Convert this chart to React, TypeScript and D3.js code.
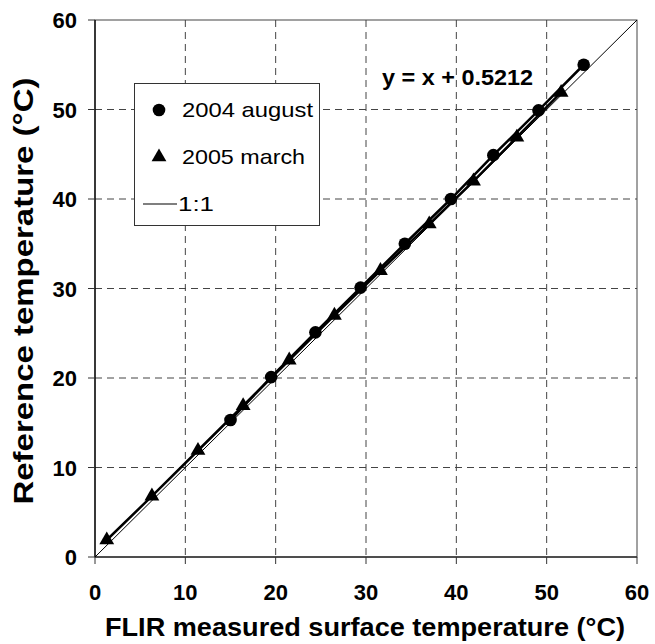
import React from "react";
import * as d3 from "d3";

const augX = [15.0, 19.5, 24.4, 29.4, 34.3, 39.4, 44.1, 49.1, 54.1];
const augY = [15.3, 20.1, 25.1, 30.1, 35.0, 40.0, 44.9, 49.9, 55.0];
const marX = [1.3, 6.3, 11.4, 16.4, 21.5, 26.5, 31.6, 37.0, 41.9, 46.7, 51.6];
const marY = [1.9, 6.8, 11.9, 16.9, 22.0, 27.0, 32.0, 37.2, 42.0, 46.9, 51.9];
const oneToOne = [0, 60];
const ticks = [0, 10, 20, 30, 40, 50, 60];
const legendLabels = ["2004 august", "2005 march", "1:1"];
const equation = "y = x + 0.5212";
const xTitle = "FLIR measured surface temperature (°C)";
const yTitle = "Reference temperature (°C)";

const W = 655, H = 644;
const L = 95, R = 637, T = 20, B = 557;
const FONT = "'Liberation Sans', Arial, sans-serif";

export default function App() {
  const x = d3.scaleLinear().domain([0, 60]).range([L, R]);
  const y = d3.scaleLinear().domain([0, 60]).range([B, T]);
  const line = d3.line<[number, number]>().x(d => x(d[0])).y(d => y(d[1]));
  const aug: [number, number][] = augX.map((v, i) => [v, augY[i]]);
  const mar: [number, number][] = marX.map((v, i) => [v, marY[i]]);
  const tri = d3.symbol().type(d3.symbolTriangle).size(95)() as string;

  return (
    <svg width={W} height={H} style={{ position: "absolute", left: 0, top: 0 }} fontFamily={FONT}>
      <rect x={0} y={0} width={W} height={H} fill="#fff" />
      {/* grid */}
      {ticks.slice(1, -1).map(t => (
        <g key={"g" + t}>
          <line x1={x(t)} x2={x(t)} y1={T} y2={B} stroke="#444" strokeWidth={1} strokeDasharray="7,5" />
          <line x1={L} x2={R} y1={y(t)} y2={y(t)} stroke="#444" strokeWidth={1} strokeDasharray="7,5" />
        </g>
      ))}
      {/* frame */}
      <rect x={L} y={T} width={R - L} height={B - T} fill="none" stroke="#444" strokeWidth={1} />
      <line x1={L} x2={L} y1={T} y2={B} stroke="#000" strokeWidth={1.3} />
      <line x1={L} x2={R} y1={B} y2={B} stroke="#333" strokeWidth={1.3} />
      {/* ticks */}
      {ticks.map(t => (
        <g key={"t" + t}>
          <line x1={x(t)} x2={x(t)} y1={B} y2={B + 7} stroke="#333" />
          <line x1={L - 7} x2={L} y1={y(t)} y2={y(t)} stroke="#333" />
          <text x={x(t)} y={600} textAnchor="middle" fontSize={22} fontWeight="bold">{t}</text>
          <text x={77} y={y(t) + 8} textAnchor="end" fontSize={22} fontWeight="bold">{t}</text>
        </g>
      ))}
      {/* 1:1 line */}
      <path d={line(oneToOne.map(v => [v, v] as [number, number])) as string} stroke="#000" strokeWidth={1} fill="none" />
      {/* series lines */}
      <path d={line(aug) as string} stroke="#000" strokeWidth={2.5} fill="none" />
      <path d={line(mar) as string} stroke="#000" strokeWidth={2.5} fill="none" />
      {/* markers */}
      {aug.map((d, i) => (
        <circle key={"c" + i} cx={x(d[0])} cy={y(d[1])} r={6.3} fill="#000" />
      ))}
      {mar.map((d, i) => (
        <path key={"m" + i} d={tri} transform={`translate(${x(d[0])},${y(d[1])})`} fill="#000" />
      ))}
      {/* equation */}
      <text x={382} y={85} fontSize={22} fontWeight="bold" textLength={151} lengthAdjust="spacingAndGlyphs">{equation}</text>
      {/* legend */}
      <rect x={134.5} y={83.5} width={185} height={142} fill="#fff" stroke="#333" strokeWidth={1} />
      <circle cx={159} cy={110} r={6.3} fill="#000" />
      <text x={182} y={117} fontSize={21} textLength={131} lengthAdjust="spacingAndGlyphs">{legendLabels[0]}</text>
      <path d={tri} transform="translate(159,157)" fill="#000" />
      <text x={182} y={164} fontSize={21} textLength={123} lengthAdjust="spacingAndGlyphs">{legendLabels[1]}</text>
      <line x1={143} x2={177} y1={204} y2={204} stroke="#000" strokeWidth={1.2} />
      <text x={178} y={211} fontSize={21} textLength={36} lengthAdjust="spacingAndGlyphs">{legendLabels[2]}</text>
      {/* titles */}
      <text x={105} y={636} fontSize={25} fontWeight="bold" textLength={520} lengthAdjust="spacingAndGlyphs">{xTitle}</text>
      <text transform={`translate(33,291) rotate(-90)`} textAnchor="middle" fontSize={27} fontWeight="bold" textLength={427} lengthAdjust="spacingAndGlyphs">{yTitle}</text>
    </svg>
  );
}
